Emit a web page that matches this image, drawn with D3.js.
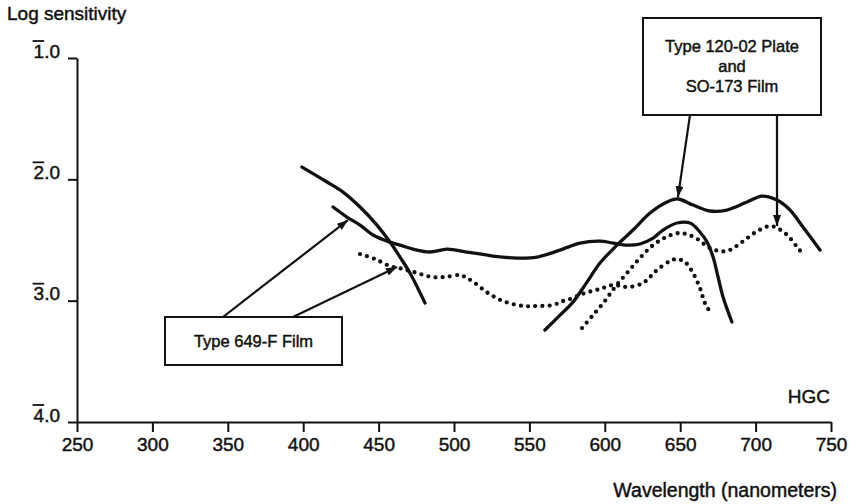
<!DOCTYPE html>
<html>
<head>
<meta charset="utf-8">
<script src="https://cdn.jsdelivr.net/npm/d3@7"></script>
<style>
  html, body { margin: 0; padding: 0; background: #fff; }
  svg { display: block; font-family: "Liberation Sans", Arial, Helvetica, sans-serif; }
  svg text { stroke: #111; stroke-width: 0.45px; }
</style>
</head>
<body>
<div id="chart"></div>
<script>
// Tick values
const wavelengthTicks = [250, 300, 350, 400, 450, 500, 550, 600, 650, 700, 750];
const sensitivityTicks = [-1, -2, -3, -4];
// bar notation: the integer digit carries an overline (1-bar.0 = -1)
const sensitivityTickLabels = ["1.0", "2.0", "3.0", "4.0"];

// Curves: [wavelength nm, log sensitivity]
const plate649 = [
    [419.8, -2.228], [429.0, -2.311], [437.7, -2.377], [446.3, -2.459], [455.6, -2.509],
    [464.2, -2.542], [472.8, -2.575], [484.1, -2.599], [495.4, -2.575], [508.6, -2.599],
    [525.9, -2.632], [541.8, -2.649], [555.0, -2.641], [570.3, -2.583], [583.6, -2.525],
    [596.8, -2.509], [605.4, -2.525], [614.7, -2.542], [623.3, -2.533], [632.0, -2.484],
    [638.6, -2.418], [647.9, -2.360], [656.5, -2.360], [663.1, -2.434], [667.8, -2.517],
    [671.8, -2.641], [675.1, -2.805], [678.4, -2.970], [684.3, -3.176]
];
const film649 = [
    [437.7, -2.616], [447.6, -2.657], [457.6, -2.715], [466.2, -2.739], [475.5, -2.772],
    [485.4, -2.805], [494.0, -2.805], [504.0, -2.789], [508.6, -2.814], [513.9, -2.855],
    [522.5, -2.937], [532.5, -3.003], [545.8, -3.044], [555.7, -3.044], [565.6, -3.036],
    [572.3, -3.003], [576.9, -2.987], [586.9, -2.937], [596.8, -2.904], [605.4, -2.871],
    [615.4, -2.888], [625.3, -2.855], [630.0, -2.805], [634.6, -2.748], [643.2, -2.674],
    [647.9, -2.657], [653.2, -2.682], [658.5, -2.772], [663.1, -2.896], [666.4, -3.020],
    [671.1, -3.119]
];
const plate120 = [
    [560.3, -3.242], [570.3, -3.119], [578.9, -3.012], [588.2, -2.847], [596.8, -2.690],
    [608.1, -2.542], [618.7, -2.418], [630.0, -2.278], [641.2, -2.187], [648.5, -2.162],
    [658.5, -2.212], [669.8, -2.261], [681.0, -2.253], [694.3, -2.187], [704.2, -2.138],
    [714.2, -2.171], [722.8, -2.253], [731.4, -2.393], [742.7, -2.583]
];
const filmSO173 = [
    [584.9, -3.226], [592.2, -3.119], [599.5, -3.012], [606.8, -2.888], [614.7, -2.772],
    [622.7, -2.657], [631.3, -2.550], [640.6, -2.476], [649.9, -2.443], [659.2, -2.476],
    [671.1, -2.575], [681.0, -2.591], [691.0, -2.517], [700.3, -2.434], [710.2, -2.385],
    [720.2, -2.451], [727.5, -2.558], [731.4, -2.616]
];
// short-wave solid branch (steep curve, 400-480 nm)
const solidShortWave = [
    [399.2, -1.899], [415.8, -2.022], [426.4, -2.105], [437.7, -2.228], [448.9, -2.377],
    [457.6, -2.517], [464.2, -2.641], [470.8, -2.772], [480.8, -3.020]
];

// Annotations
const label649 = ["Type 649-F Film"];
const label120 = ["Type 120-02 Plate", "and", "SO-173 Film"];
const arrowTips649 = [[429.7, -2.336], [462.2, -2.723]];
const arrowTips120 = [[648.5, -2.146], [714.2, -2.385]];

const ink = "#111";
const fontFam = "Liberation Sans, Arial, Helvetica, sans-serif";

const svg = d3.select("#chart")
    .append("svg")
    .attr("width", 850)
    .attr("height", 504);

const x = d3.scaleLinear().domain([250, 750]).range([77, 831]);
const y = d3.scaleLinear().domain([-4, -1]).range([422, 58]);

// arrow head
svg.append("defs").append("marker")
    .attr("id", "head")
    .attr("markerUnits", "userSpaceOnUse")
    .attr("markerWidth", 11)
    .attr("markerHeight", 8)
    .attr("refX", 11)
    .attr("refY", 4)
    .attr("orient", "auto")
    .append("path")
    .attr("d", "M0,0 L11,4 L0,8 Z")
    .attr("fill", ink);

// x axis
const xAxis = svg.append("g")
    .attr("transform", "translate(0,422)")
    .call(d3.axisBottom(x).tickValues(wavelengthTicks).tickSize(10).tickSizeOuter(0).tickPadding(6))
    .attr("font-size", 19)
    .attr("font-family", fontFam);
xAxis.select(".domain").attr("stroke", ink).attr("stroke-width", 2);
xAxis.selectAll(".tick line").attr("stroke", ink).attr("stroke-width", 2);
xAxis.selectAll(".tick text").attr("fill", ink);

// y axis
const yAxis = svg.append("g")
    .attr("transform", "translate(77,0)")
    .call(d3.axisLeft(y).tickValues(sensitivityTicks).tickSize(9).tickSizeOuter(0).tickPadding(8)
        .tickFormat((d, i) => sensitivityTickLabels[i]))
    .attr("font-size", 19)
    .attr("font-family", fontFam);
yAxis.select(".domain").attr("stroke", ink).attr("stroke-width", 2);
yAxis.selectAll(".tick line").attr("stroke", ink).attr("stroke-width", 2);
yAxis.selectAll(".tick text").attr("fill", ink).attr("dy", "-0.05em");

// overline on the characteristic digit
yAxis.selectAll(".tick").each(function () {
    const t = d3.select(this).select("text").node();
    const ext = t.getExtentOfChar(0);
    d3.select(this).append("line")
        .attr("x1", ext.x - 1)
        .attr("x2", ext.x + ext.width)
        .attr("y1", -17.5)
        .attr("y2", -17.5)
        .attr("stroke", ink)
        .attr("stroke-width", 1.8);
});

// curves
const line = d3.line()
    .x(d => x(d[0]))
    .y(d => y(d[1]))
    .curve(d3.curveCatmullRom.alpha(0.5));

const solids = [plate649, plate120, solidShortWave];
const dotted = [film649, filmSO173];

svg.append("g").selectAll("path")
    .data(solids)
    .join("path")
    .attr("d", line)
    .attr("fill", "none")
    .attr("stroke", ink)
    .attr("stroke-width", 3.3)
    .attr("stroke-linecap", "round");

svg.append("g").selectAll("path")
    .data(dotted)
    .join("path")
    .attr("d", line)
    .attr("fill", "none")
    .attr("stroke", ink)
    .attr("stroke-width", 4.3)
    .attr("stroke-dasharray", "0 7.2")
    .attr("stroke-linecap", "round");

// annotation boxes
const box649 = { x: 165, y: 317, w: 177, h: 48, starts: [[223, 317], [293, 317]] };
const box120 = { x: 643, y: 18, w: 178, h: 97, starts: [[690, 115], [777, 115]] };

const drawBox = (box, lines, tips, firstBaseline, lineGap) => {
    const g = svg.append("g");
    g.append("rect")
        .attr("x", box.x).attr("y", box.y)
        .attr("width", box.w).attr("height", box.h)
        .attr("fill", "#fff")
        .attr("stroke", ink)
        .attr("stroke-width", 2);
    g.selectAll("text")
        .data(lines)
        .join("text")
        .attr("x", box.x + box.w / 2)
        .attr("y", (d, i) => firstBaseline + i * lineGap)
        .attr("text-anchor", "middle")
        .attr("font-size", 16.5)
        .attr("fill", ink)
        .text(d => d);
    g.selectAll("line")
        .data(tips)
        .join("line")
        .attr("x1", (d, i) => box.starts[i][0])
        .attr("y1", (d, i) => box.starts[i][1])
        .attr("x2", d => x(d[0]))
        .attr("y2", d => y(d[1]))
        .attr("stroke", ink)
        .attr("stroke-width", 2.2)
        .attr("marker-end", "url(#head)");
};

drawBox(box649, label649, arrowTips649, 347, 20);
drawBox(box120, label120, arrowTips120, 52, 20);

// titles
svg.append("text")
    .attr("x", 7).attr("y", 20)
    .attr("font-size", 19)
    .attr("fill", ink)
    .text("Log sensitivity");

svg.append("text")
    .attr("x", 830).attr("y", 403)
    .attr("text-anchor", "end")
    .attr("font-size", 19)
    .attr("fill", ink)
    .text("HGC");

svg.append("text")
    .attr("x", 837).attr("y", 497)
    .attr("text-anchor", "end")
    .attr("font-size", 19.5)
    .attr("fill", ink)
    .text("Wavelength (nanometers)");
</script>
</body>
</html>
